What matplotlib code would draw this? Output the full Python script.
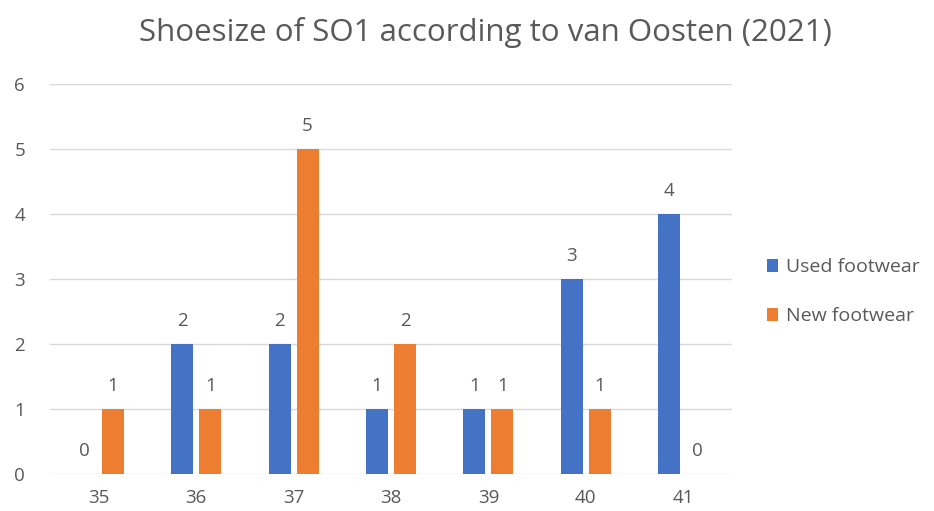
import matplotlib
matplotlib.use("Agg")
import matplotlib.pyplot as plt
import numpy as np

categories = ["35", "36", "37", "38", "39", "40", "41"]
used = [0, 2, 2, 1, 1, 3, 4]
new = [1, 1, 5, 2, 1, 1, 0]
series_names = ["Used footwear", "New footwear"]

plt.rcParams['font.family'] = ['Open Sans', 'DejaVu Sans']
gray = "#595959"

fig = plt.figure(figsize=(9.34, 5.11), dpi=100)
ax = fig.add_axes([50/934, 1-474/511, (732-50)/934, (474-84)/511])

x = np.arange(len(categories))
w = 0.226
off = 0.144
b1 = ax.bar(x - off, used, w, color="#4472C4", label=series_names[0], zorder=3)
b2 = ax.bar(x + off, new, w, color="#ED7D31", label=series_names[1], zorder=3)
for bars in (b1, b2):
    ax.bar_label(bars, padding=10, fontsize=13.5, color=gray)

ax.set_xlim(-0.5, len(categories) - 0.5)
ax.set_ylim(0, 6)
ax.set_yticks(range(0, 7))
ax.set_xticks(x)
ax.set_xticklabels(categories)
ax.tick_params(length=0, labelsize=13.5, labelcolor=gray)
ax.tick_params(axis='y', pad=18)
ax.tick_params(axis='x', pad=11)
ax.grid(axis='y', color="#D9D9D9", linewidth=1, zorder=0)
for s in ax.spines.values():
    s.set_visible(False)

fig.text(0.5 * (118 + 852) / 934, 1 - 33/511, "Shoesize of SO1 according to van Oosten (2021)",
         ha='center', va='center', fontsize=22.5, color=gray)

ax.legend(loc='center left', bbox_to_anchor=(1.025, 0.467), frameon=False, fontsize=14,
          labelcolor=gray, handlelength=0.6, handleheight=0.6, handletextpad=0.4,
          labelspacing=1.6)

fig.savefig("out.png", dpi=100)
